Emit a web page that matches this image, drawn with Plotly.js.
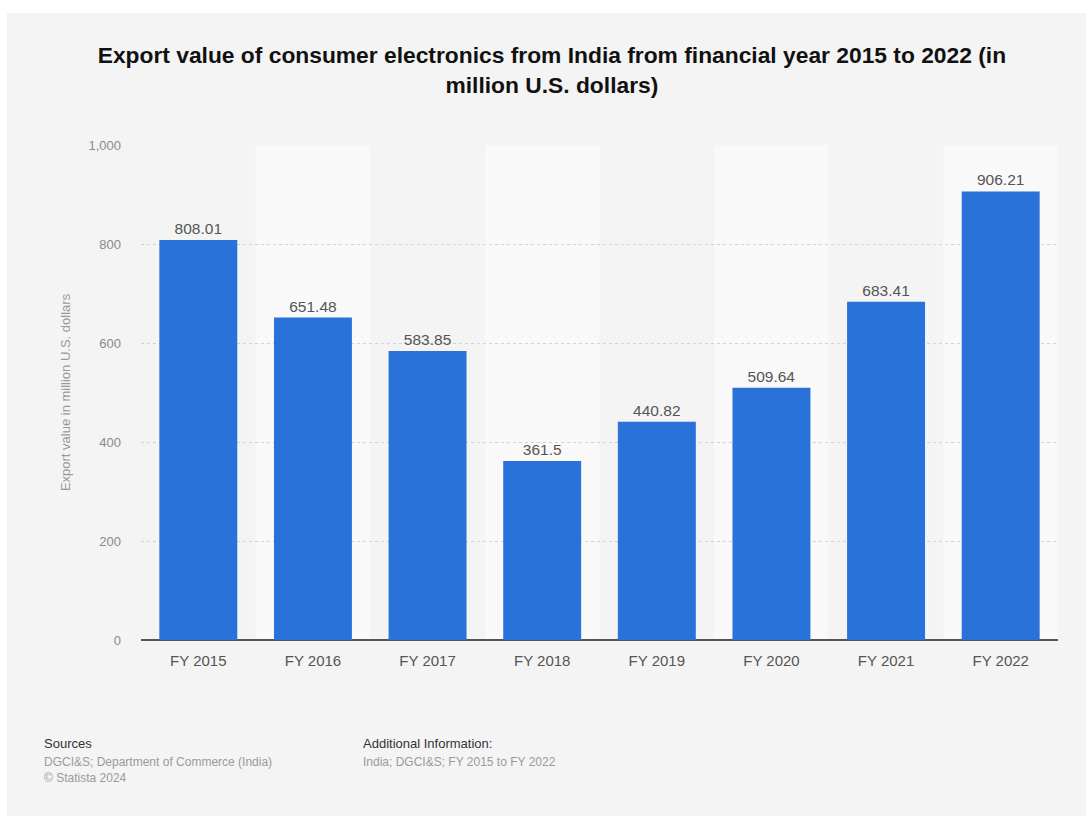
<!DOCTYPE html>
<html>
<head>
<meta charset="utf-8">
<script src="https://cdn.plot.ly/plotly-3.0.1.min.js"></script>
<style>
  html, body { margin: 0; padding: 0; background: #ffffff; }
  #chart { position: absolute; left: 7px; top: 13px; width: 1079px; height: 803px; }
</style>
</head>
<body>
<div id="chart"></div>
<script>
// ---- Data ----
const categories = ["FY 2015", "FY 2016", "FY 2017", "FY 2018", "FY 2019", "FY 2020", "FY 2021", "FY 2022"];
const exportValues = [808.01, 651.48, 583.85, 361.5, 440.82, 509.64, 683.41, 906.21];
const valueLabels = ["808.01", "651.48", "583.85", "361.5", "440.82", "509.64", "683.41", "906.21"];
const yTickValues = [0, 200, 400, 600, 800, 1000];
const yTickLabels = ["0", "200", "400", "600", "800", "1,000"];

const chartTitle = "Export value of consumer electronics from India from financial year 2015 to 2022 (in<br>million U.S. dollars)";
const yAxisTitle = "Export value in million U.S. dollars";
const sourcesHead = "Sources";
const sourcesBody = "DGCI&S; Department of Commerce (India)<br>© Statista 2024";
const infoHead = "Additional Information:";
const infoBody = "India; DGCI&S; FY 2015 to FY 2022";

// ---- Layout geometry (pixels within the chart div) ----
const W = 1079, H = 803;
const M = { l: 134, r: 28, t: 132, b: 176 };
const plotW = W - M.l - M.r, plotH = H - M.t - M.b;
const px = x => (x - M.l) / plotW;
const py = y => (H - M.b - y) / plotH;
const yMax = yTickValues[yTickValues.length - 1];

const font = "'Liberation Sans', Arial, Helvetica, sans-serif";

const bands = categories.map((c, i) => i).filter(i => i % 2 === 1).map(i => ({
  type: "rect", layer: "below", xref: "x", yref: "y",
  x0: i - 0.5, x1: i + 0.5, y0: 0, y1: yMax,
  fillcolor: "#f9f9f9", line: { width: 0 }
}));

const trace = {
  type: "bar",
  x: categories,
  y: exportValues,
  text: valueLabels,
  texttemplate: "%{text}",
  textposition: "outside",
  cliponaxis: false,
  textfont: { family: font, size: 15.5, color: "#555555" },
  marker: { color: "#2872d9", line: { width: 0 } },
  hoverinfo: "none"
};

const layout = {
  width: W, height: H,
  margin: M,
  paper_bgcolor: "#f4f4f4",
  plot_bgcolor: "#f4f4f4",
  font: { family: font },
  showlegend: false,
  bargap: 0.32,
  title: {
    text: chartTitle,
    font: { family: font, size: 22.8, color: "#111111", weight: "bold" },
    x: 0.505, xanchor: "center", xref: "container",
    y: 1 - 50 / H, yanchor: "middle", yref: "container"
  },
  xaxis: {
    type: "category",
    showgrid: false,
    ticks: "",
    ticklabelstandoff: 10,
    tickfont: { family: font, size: 15, color: "#555555" },
    showline: false,
    zeroline: false,
    fixedrange: true
  },
  yaxis: {
    range: [0, yMax],
    tickvals: yTickValues,
    ticktext: yTickLabels,
    tickfont: { family: font, size: 13, color: "#8a8a8a" },
    ticks: "",
    ticklabelstandoff: 19,
    showgrid: true,
    gridcolor: "#d2d2d2",
    griddash: "dot",
    gridwidth: 1,
    zeroline: true,
    zerolinecolor: "#555555",
    zerolinewidth: 2,
    title: { text: yAxisTitle, font: { family: font, size: 13, color: "#999999" }, standoff: 14 },
    fixedrange: true
  },
  shapes: bands,
  annotations: [
    { text: sourcesHead, xref: "paper", yref: "paper", x: px(35), y: py(730), xanchor: "left", yanchor: "middle",
      showarrow: false, font: { family: font, size: 13, color: "#333333" } },
    { text: sourcesBody, xref: "paper", yref: "paper", x: px(35), y: py(740), xanchor: "left", yanchor: "top", align: "left",
      showarrow: false, font: { family: font, size: 12, color: "#9a9a9a" } },
    { text: infoHead, xref: "paper", yref: "paper", x: px(354), y: py(730), xanchor: "left", yanchor: "middle",
      showarrow: false, font: { family: font, size: 13, color: "#333333" } },
    { text: infoBody, xref: "paper", yref: "paper", x: px(354), y: py(740), xanchor: "left", yanchor: "top", align: "left",
      showarrow: false, font: { family: font, size: 12, color: "#9a9a9a" } }
  ]
};

Plotly.newPlot("chart", [trace], layout, { displayModeBar: false, staticPlot: true });
</script>
</body>
</html>
